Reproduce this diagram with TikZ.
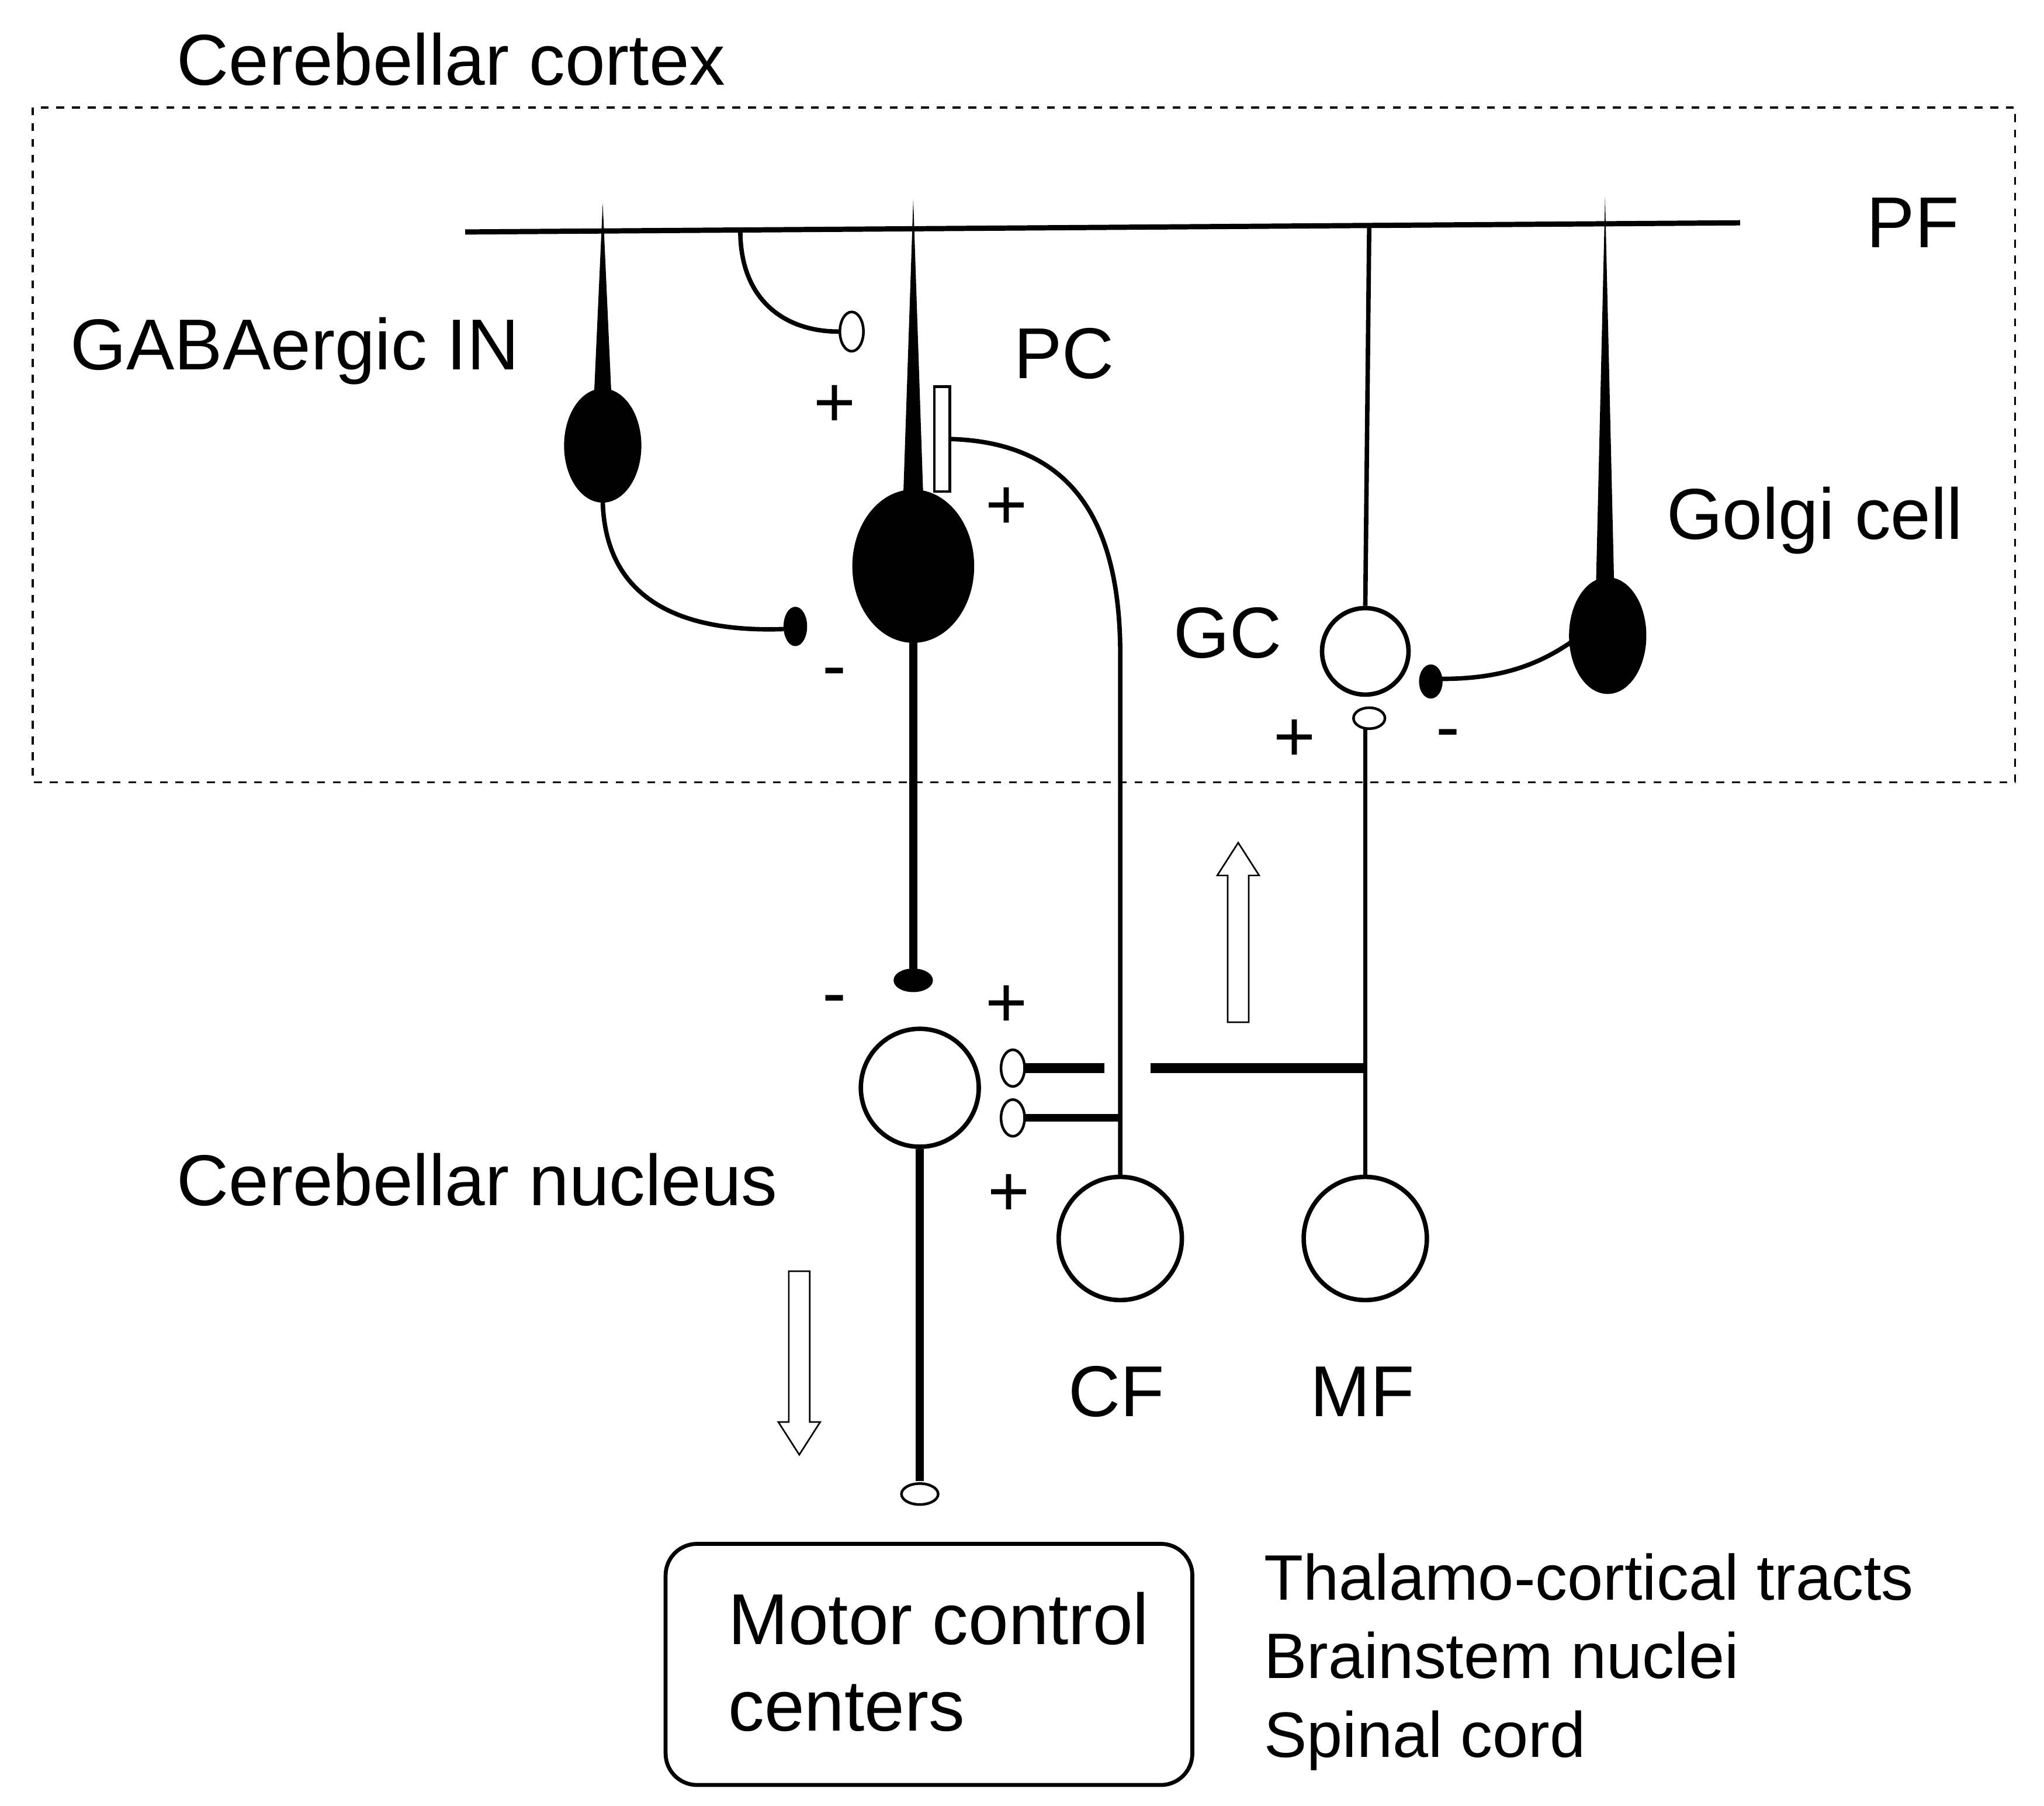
\documentclass[tikz,border=0pt]{standalone}
\usepackage{fontspec}
\setmainfont{Liberation Sans}
\usetikzlibrary{arrows.meta,positioning}
\tikzset{
	lbl/.style={inner sep=0.75pt, font=\fontsize{27.5}{33}\selectfont},
	small/.style={inner sep=0.75pt, font=\fontsize{24.5}{30}\selectfont},
	soma/.style={draw, line width=1.5pt, fill=black},
	cell/.style={draw, line width=1.7pt, fill=white, circle},
	syn/.style={draw, line width=1pt},
	fib/.style={line width=1.7pt},
	axon/.style={line width=3pt},
	hollow/.style={draw, line width=0.6pt, fill=white}
}
\begin{document}
\begin{tikzpicture}[x=0.5pt,y=0.5pt,yscale=-1]
	\useasboundingbox (0,0) rectangle (1560,1378);

	% cortex frame and parallel fibre
	\draw [dashed, line width=0.8pt] (25,82) rectangle (1538,597);
	\coordinate (pfL) at (355,177);
	\coordinate (pfR) at (1328,170);
	\draw [fib, line width=2pt] (pfL) -- (pfR);

	% GABAergic interneuron
	\fill (460,155) -- (453,310) -- (467,310) -- cycle;
	\draw [soma] (460,340) ellipse (28 and 42);
	\draw [fib] (460,382) .. controls (462,470) and (540,482) .. (598,480);
	\draw [soma, line width=1pt] (607,478) ellipse (8 and 14);
	\draw [fib] (565,176) .. controls (565,230) and (600,253) .. (640,253);
	\draw [syn] (650,253) ellipse (9 and 15);

	% Purkinje cell
	\fill (697,152) -- (689,390) -- (705,390) -- cycle;
	\draw [soma] (697,432) ellipse (45 and 57);
	\draw [axon] (697,489) -- (697,740);
	\draw [soma, line width=1pt] (697,748) ellipse (14 and 8);
	\draw [syn] (713,295) rectangle (725,375);

	% climbing fibre
	\node [cell, minimum size=94pt*0.5] (cf) at (855,945) {};
	\draw [fib] (726,335) .. controls (820,338) and (855,400) .. (855,500) -- (cf.north);

	% granule cell, Golgi cell, mossy fibre
	\node [cell, minimum size=66pt*0.5] (gc) at (1042,497) {};
	\draw [fib] (1045,172) -- (gc.north);
	\fill (1225,150) -- (1218,450) -- (1232,450) -- cycle;
	\draw [soma] (1227,485) ellipse (28 and 43);
	\draw [fib] (1199,490) .. controls (1170,510) and (1140,518) .. (1100,518);
	\draw [soma, line width=1pt] (1092,520) ellipse (8 and 12);
	\draw [syn] (1045,548) ellipse (12 and 8);
	\node [cell, minimum size=94pt*0.5] (mf) at (1042,945) {};
	\draw [fib] (1042,556) -- (mf.north);

	% cerebellar nucleus
	\node [cell, minimum size=90pt*0.5] (cn) at (702,830) {};
	\draw [syn] (773,815) ellipse (9 and 14);
	\draw [syn] (773,853) ellipse (9 and 14);
	\draw [axon, line width=4pt] (782,815) -- (843,815);
	\draw [axon, line width=4pt] (878,815) -- (1042,815);
	\draw [axon] (782,853) -- (855,853);
	\draw [axon] (cn.south) -- (702,1130);
	\draw [syn] (702,1140) ellipse (14 and 8);

	% hollow arrows
	\draw [hollow] (937,780) -- (937,668) -- (929,668) -- (945,643) -- (961,668) -- (953,668) -- (953,780) -- cycle;
	\draw [hollow] (602,970) -- (602,1085) -- (594,1085) -- (610,1110) -- (626,1085) -- (618,1085) -- (618,970) -- cycle;

	% output box
	\node [draw, line width=1.5pt, rounded corners=12pt, minimum width=201pt, minimum height=92pt] (mcc) at (709,1270) {};
	\node [lbl, align=left, anchor=west] (mcct) at (554,1268) {Motor control\\centers};

	% labels
	\node [lbl, anchor=west] (ctx) at (133,45) {Cerebellar cortex};
	\node [lbl] (pf) at (1460,170) {PF};
	\node [lbl] (inl) at (225,268) {GABAergic IN};
	\node [lbl] (pcl) at (812,270) {PC};
	\node [lbl] (gcl) at (937,483) {GC};
	\node [lbl] (gol) at (1385,397) {Golgi cell};
	\node [lbl, anchor=west] (cnl) at (133,900) {Cerebellar nucleus};
	\node [lbl] (cfl) at (852,1062) {CF};
	\node [lbl] (mfl) at (1040,1062) {MF};
	\node [lbl] at (637,310) {+};
	\node [lbl] at (768,388) {+};
	\node [lbl] at (637,518) {-};
	\node [lbl] at (988,565) {+};
	\node [lbl] at (1105,565) {-};
	\node [lbl] at (637,768) {-};
	\node [lbl] at (768,768) {+};
	\node [lbl] at (770,912) {+};
	\node [small, anchor=west, align=left] (tgt) at (963,1268) {Thalamo-cortical tracts\\Brainstem nuclei\\Spinal cord};
\end{tikzpicture}
\end{document}
